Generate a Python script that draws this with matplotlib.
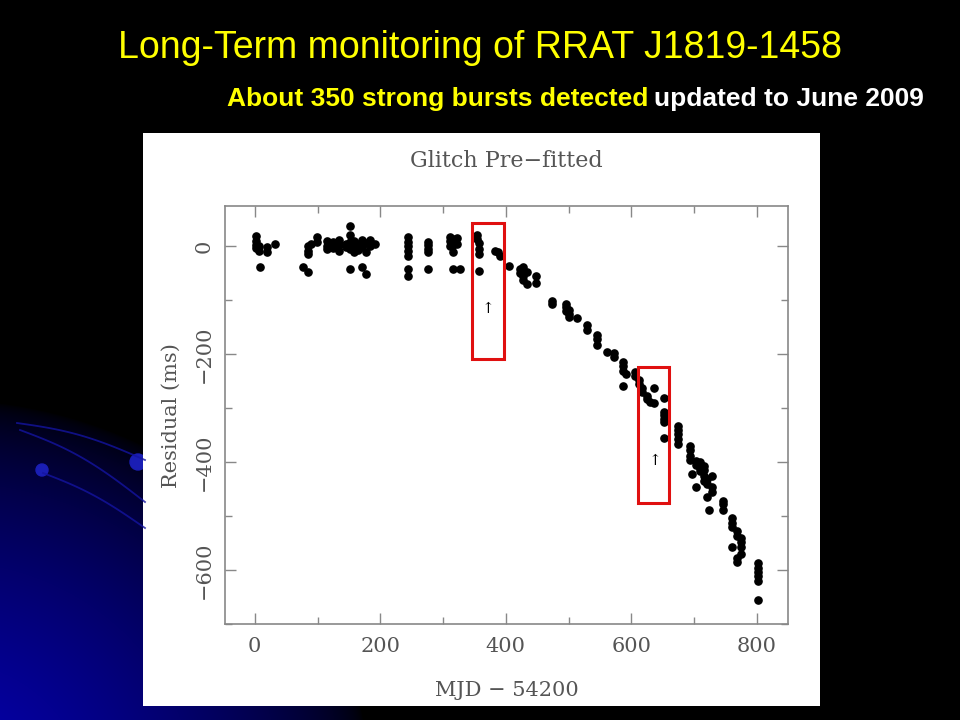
import numpy as np
import matplotlib
matplotlib.use("Agg")
import matplotlib.pyplot as plt
from matplotlib.patches import Rectangle, Circle
from matplotlib.ticker import MultipleLocator

# TOA epochs (MJD - 54200) and the residuals (ms) seen at each epoch
epochs = [2, 6, 8, 19, 32, 77, 85, 90, 99, 115, 125, 135, 145, 151, 158, 165,
          171, 178, 183, 191, 244, 276, 311, 316, 322, 327, 354, 357, 383, 388,
          391, 405, 423, 428, 434, 448, 474, 496, 500, 513, 529, 545, 561, 573,
          587, 592, 606, 612, 617, 625, 630, 636, 652, 675, 694, 697, 703, 710,
          716, 721, 724, 728, 746, 761, 769, 775, 802]
residuals = [[20, 10, 2, -3], [0, -8], [-39], [-2, -10], [5], [-39],
             [-48, -8, -15, 0], [5], [17, 8], [10, 0, -5], [8, -3],
             [12, 2, -8], [5, -2], [37, 22, 8, -4, -42], [10, 0, -10],
             [5, -6], [12, -2, -39], [6, -10, -52], [0, 12], [4],
             [17, 8, 0, -8, -18, -42, -55], [9, 2, -5, -11, -41],
             [18, 10, 0], [14, 3, -11, -42], [15, 4], [-42], [22, 14],
             [6, -4, -15, -46], [-9], [-11], [-18], [-37], [-42, -50],
             [-39, -46, -55, -62], [-48, -70], [-55, -68], [-102, -107],
             [-107, -113, -120], [-118, -125, -131], [-133], [-146, -155],
             [-164, -172, -183], [-196], [-198, -205], [-214, -222, -230, -258],
             [-236], [-233, -240], [-247, -255], [-262, -270], [-277, -283],
             [-288], [-262, -290], [-281, -307, -313, -319, -325, -355],
             [-332, -340, -348, -356, -367], [-369, -378, -388, -395], [-421],
             [-397, -405, -445], [-400, -410, -417], [-406, -415, -425, -435],
             [-430, -440, -465], [-488], [-425, -445, -455], [-471, -478, -489],
             [-504, -512, -519, -556], [-528, -536, -578, -584],
             [-540, -548, -556, -569], [-587, -595, -603, -611, -620, -656]]

# glitch windows marked on the slide (MJD range, residual range) and arrows
glitch_boxes = [(346, 397, -209, 44), (611, 660, -475, -223)]
glitch_arrows = [(372, -116), (638, -397)]

mjd = np.concatenate([[e] * len(r) for e, r in zip(epochs, residuals)])
res = np.concatenate(residuals)

fig = plt.figure(figsize=(9.6, 7.2), dpi=100, facecolor="black")

# slide background: black with a blue glow in the lower left corner
bg = fig.add_axes([0, 0, 1, 1])
bg.set_xlim(0, 960)
bg.set_ylim(720, 0)
bg.axis("off")
yy, xx = np.mgrid[0:720, 0:960]
d = np.hypot(xx + 60, (yy - 790) * 1.1)
glow = np.clip(1 - d / 430, 0, 1) ** 0.6
img = np.zeros((720, 960, 3))
img[..., 2] = 0.72 * glow
img[..., 0] = 0.02 * glow
bg.imshow(img, extent=(0, 960, 720, 0), aspect="auto")
t = np.linspace(0, 1, 50)
for x0, y0, x1, y1, bend in [(17, 423, 145, 460, 6), (20, 430, 145, 502, 8),
                             (43, 473, 145, 528, 5)]:
    bx = x0 + (x1 - x0) * t
    by = y0 + (y1 - y0) * t - bend * np.sin(np.pi * t)
    bg.plot(bx, by, color="#1414a0", lw=1.3, alpha=0.8)
bg.add_patch(Circle((42, 470), 6, color="#1a1eb4"))
bg.add_patch(Circle((138, 462), 8, color="#1a1eb4"))
bg.add_patch(Rectangle((143, 133), 677, 573, facecolor="white", edgecolor="none"))

fig.text(0.5, 0.934, "Long-Term monitoring of RRAT J1819-1458", color="#ffff00",
         fontsize=27, ha="center", va="center", family="Liberation Sans")
t1 = fig.text(227 / 960, 0.863, "About 350 strong bursts detected", color="#ffff00",
              fontsize=19, fontweight="bold", ha="left", va="center",
              family="Liberation Sans")
r = fig.canvas.get_renderer()
bb = t1.get_window_extent(renderer=r)
fig.text(bb.x1 / 960 + 0.006, 0.863, "updated to June 2009", color="white",
         fontsize=19, fontweight="bold", ha="left", va="center",
         family="Liberation Sans")

gray = "#555555"
serif = "DejaVu Serif"
ax = fig.add_axes([0.234, 0.133, 0.587, 0.581])
ax.scatter(mjd, res, s=27, color="black", zorder=3)
ax.set_xlim(-48, 850)
ax.set_ylim(-700, 75)

for x0, x1, y0, y1 in glitch_boxes:
    ax.add_patch(Rectangle((x0, y0), x1 - x0, y1 - y0, fill=False,
                           edgecolor="#e01010", lw=2.2, zorder=4))
for ax_x, ax_y in glitch_arrows:
    ax.text(ax_x, ax_y, "\u2191", ha="center", va="center", fontsize=11,
            color="black", family=serif)

ax.xaxis.set_major_locator(MultipleLocator(200))
ax.xaxis.set_minor_locator(MultipleLocator(100))
ax.yaxis.set_major_locator(MultipleLocator(200))
ax.yaxis.set_minor_locator(MultipleLocator(100))
ax.tick_params(which="both", direction="in", top=True, right=True, color="#888888",
               labelcolor=gray, labelsize=15)
ax.tick_params(which="major", length=8, width=1)
ax.tick_params(which="minor", length=5, width=1)
ax.tick_params(axis="x", pad=9)
ax.tick_params(axis="y", pad=8)
for lab in ax.get_xticklabels():
    lab.set_family(serif)
ax.set_yticklabels([str(int(v)).replace("-", "\u2212") for v in ax.get_yticks()],
                   rotation=90, va="center", family=serif)
for sp in ax.spines.values():
    sp.set_color("#888888")
    sp.set_linewidth(1.2)

ax.set_xlabel("MJD \u2212 54200", family=serif, fontsize=15, color=gray, labelpad=18)
ax.set_ylabel("Residual (ms)", family=serif, fontsize=15, color=gray, labelpad=10)
ax.set_title("Glitch Pre\u2212fitted", family=serif, fontsize=16, color=gray, pad=28)

fig.savefig("out.png", dpi=100, facecolor="black")
